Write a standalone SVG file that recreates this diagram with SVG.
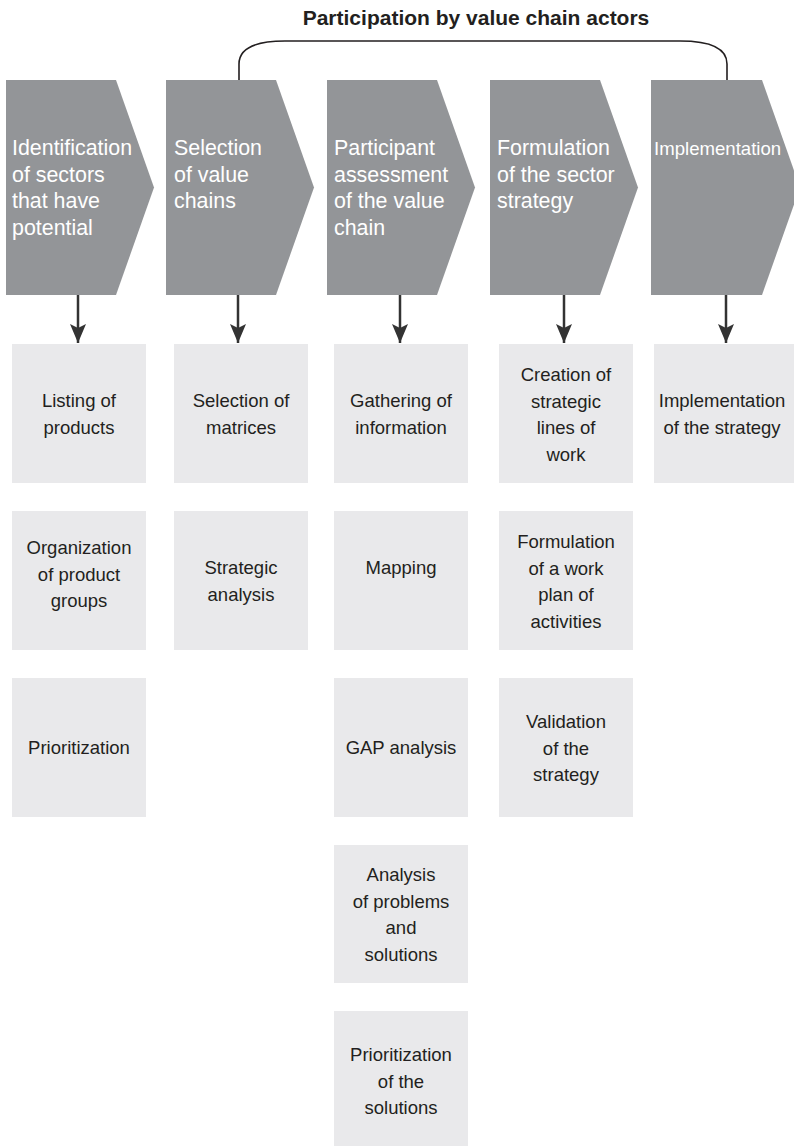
<svg xmlns="http://www.w3.org/2000/svg" width="794" height="1146" viewBox="0 0 794 1146">
<style>
.chev{fill:#939598;}
.box{fill:#e9e9eb;}
.ct{font-family:"Liberation Sans",Arial,sans-serif;font-size:21.4px;fill:#ffffff;}
.bt{font-family:"Liberation Sans",Arial,sans-serif;font-size:18.5px;fill:#231f20;text-anchor:middle;}
.title{font-family:"Liberation Sans",Arial,sans-serif;font-size:21px;font-weight:bold;fill:#231f20;text-anchor:middle;}
.arr{stroke:#333333;stroke-width:2.5;fill:none;}
</style>
<defs>
<marker id="ah" markerUnits="userSpaceOnUse" markerWidth="20" markerHeight="16" viewBox="0 0 20 16" refX="19" refY="8" orient="auto">
<path d="M0,0 L19,8 L0,16 L4,8 Z" fill="#333333"/>
</marker>
</defs>
<rect width="794" height="1146" fill="#ffffff"/>
<text class="title" x="476" y="25">Participation by value chain actors</text>

<g id="chevron-1">
<polygon class="chev" points="6,80 116,80 154,187.5 116,295 6,295"/>
<text class="ct" x="12" y="155">Identification<tspan x="12" dy="26.5">of sectors</tspan><tspan x="12" dy="26.5">that have</tspan><tspan x="12" dy="26.5">potential</tspan></text>
</g>
<g id="chevron-2">
<polygon class="chev" points="166,80 276,80 314,187.5 276,295 166,295"/>
<text class="ct" x="174" y="155">Selection<tspan x="174" dy="26.5">of value</tspan><tspan x="174" dy="26.5">chains</tspan></text>
</g>
<g id="chevron-3">
<polygon class="chev" points="327,80 437,80 475,187.5 437,295 327,295"/>
<text class="ct" x="334" y="155">Participant<tspan x="334" dy="26.5">assessment</tspan><tspan x="334" dy="26.5">of the value</tspan><tspan x="334" dy="26.5">chain</tspan></text>
</g>
<g id="chevron-4">
<polygon class="chev" points="490,80 600,80 638,187.5 600,295 490,295"/>
<text class="ct" x="497" y="155">Formulation<tspan x="497" dy="26.5">of the sector</tspan><tspan x="497" dy="26.5">strategy</tspan></text>
</g>
<g id="chevron-5">
<polygon class="chev" points="651,80 762,80 800,187.5 762,295 651,295"/>
<text class="ct" x="654" y="155" style="font-size:18.6px">Implementation</text>
</g>

<g id="connectors">
<path class="arr" d="M239,80 V64 C239,48 255,41 285,41 H680 C710,41 727,48 727,64 V80" style="stroke:#231f20;stroke-width:1.6"/>
<line class="arr" x1="78" y1="295" x2="78" y2="343" marker-end="url(#ah)"/>
<line class="arr" x1="238" y1="295" x2="238" y2="343" marker-end="url(#ah)"/>
<line class="arr" x1="400" y1="295" x2="400" y2="343" marker-end="url(#ah)"/>
<line class="arr" x1="564" y1="295" x2="564" y2="343" marker-end="url(#ah)"/>
<line class="arr" x1="726" y1="295" x2="726" y2="343" marker-end="url(#ah)"/>
</g>

<g id="box-listing">
<rect class="box" x="12" y="344" width="134" height="139"/>
<text class="bt" x="79" y="407">Listing of<tspan x="79" dy="26.5">products</tspan></text>
</g>
<g id="box-organization">
<rect class="box" x="12" y="511" width="134" height="139"/>
<text class="bt" x="79" y="554">Organization<tspan x="79" dy="26.5">of product</tspan><tspan x="79" dy="26.5">groups</tspan></text>
</g>
<g id="box-prioritization">
<rect class="box" x="12" y="678" width="134" height="139"/>
<text class="bt" x="79" y="754">Prioritization</text>
</g>

<g id="box-selection-matrices">
<rect class="box" x="174" y="344" width="134" height="139"/>
<text class="bt" x="241" y="407">Selection of<tspan x="241" dy="26.5">matrices</tspan></text>
</g>
<g id="box-strategic-analysis">
<rect class="box" x="174" y="511" width="134" height="139"/>
<text class="bt" x="241" y="574">Strategic<tspan x="241" dy="26.5">analysis</tspan></text>
</g>

<g id="box-gathering">
<rect class="box" x="334" y="344" width="134" height="139"/>
<text class="bt" x="401" y="407">Gathering of<tspan x="401" dy="26.5">information</tspan></text>
</g>
<g id="box-mapping">
<rect class="box" x="334" y="511" width="134" height="139"/>
<text class="bt" x="401" y="574">Mapping</text>
</g>
<g id="box-gap">
<rect class="box" x="334" y="678" width="134" height="139"/>
<text class="bt" x="401" y="754">GAP analysis</text>
</g>
<g id="box-problems">
<rect class="box" x="334" y="845" width="134" height="138"/>
<text class="bt" x="401" y="881">Analysis<tspan x="401" dy="26.5">of problems</tspan><tspan x="401" dy="26.5">and</tspan><tspan x="401" dy="26.5">solutions</tspan></text>
</g>
<g id="box-prioritization-solutions">
<rect class="box" x="334" y="1011" width="134" height="140"/>
<text class="bt" x="401" y="1061">Prioritization<tspan x="401" dy="26.5">of the</tspan><tspan x="401" dy="26.5">solutions</tspan></text>
</g>

<g id="box-creation">
<rect class="box" x="499" y="344" width="134" height="139"/>
<text class="bt" x="566" y="381">Creation of<tspan x="566" dy="26.5">strategic</tspan><tspan x="566" dy="26.5">lines of</tspan><tspan x="566" dy="26.5">work</tspan></text>
</g>
<g id="box-formulation">
<rect class="box" x="499" y="511" width="134" height="139"/>
<text class="bt" x="566" y="548">Formulation<tspan x="566" dy="26.5">of a work</tspan><tspan x="566" dy="26.5">plan of</tspan><tspan x="566" dy="26.5">activities</tspan></text>
</g>
<g id="box-validation">
<rect class="box" x="499" y="678" width="134" height="139"/>
<text class="bt" x="566" y="728">Validation<tspan x="566" dy="26.5">of the</tspan><tspan x="566" dy="26.5">strategy</tspan></text>
</g>

<g id="box-implementation">
<rect class="box" x="654" y="344" width="146" height="139"/>
<text class="bt" x="722" y="407">Implementation<tspan x="722" dy="26.5">of the strategy</tspan></text>
</g>
</svg>
